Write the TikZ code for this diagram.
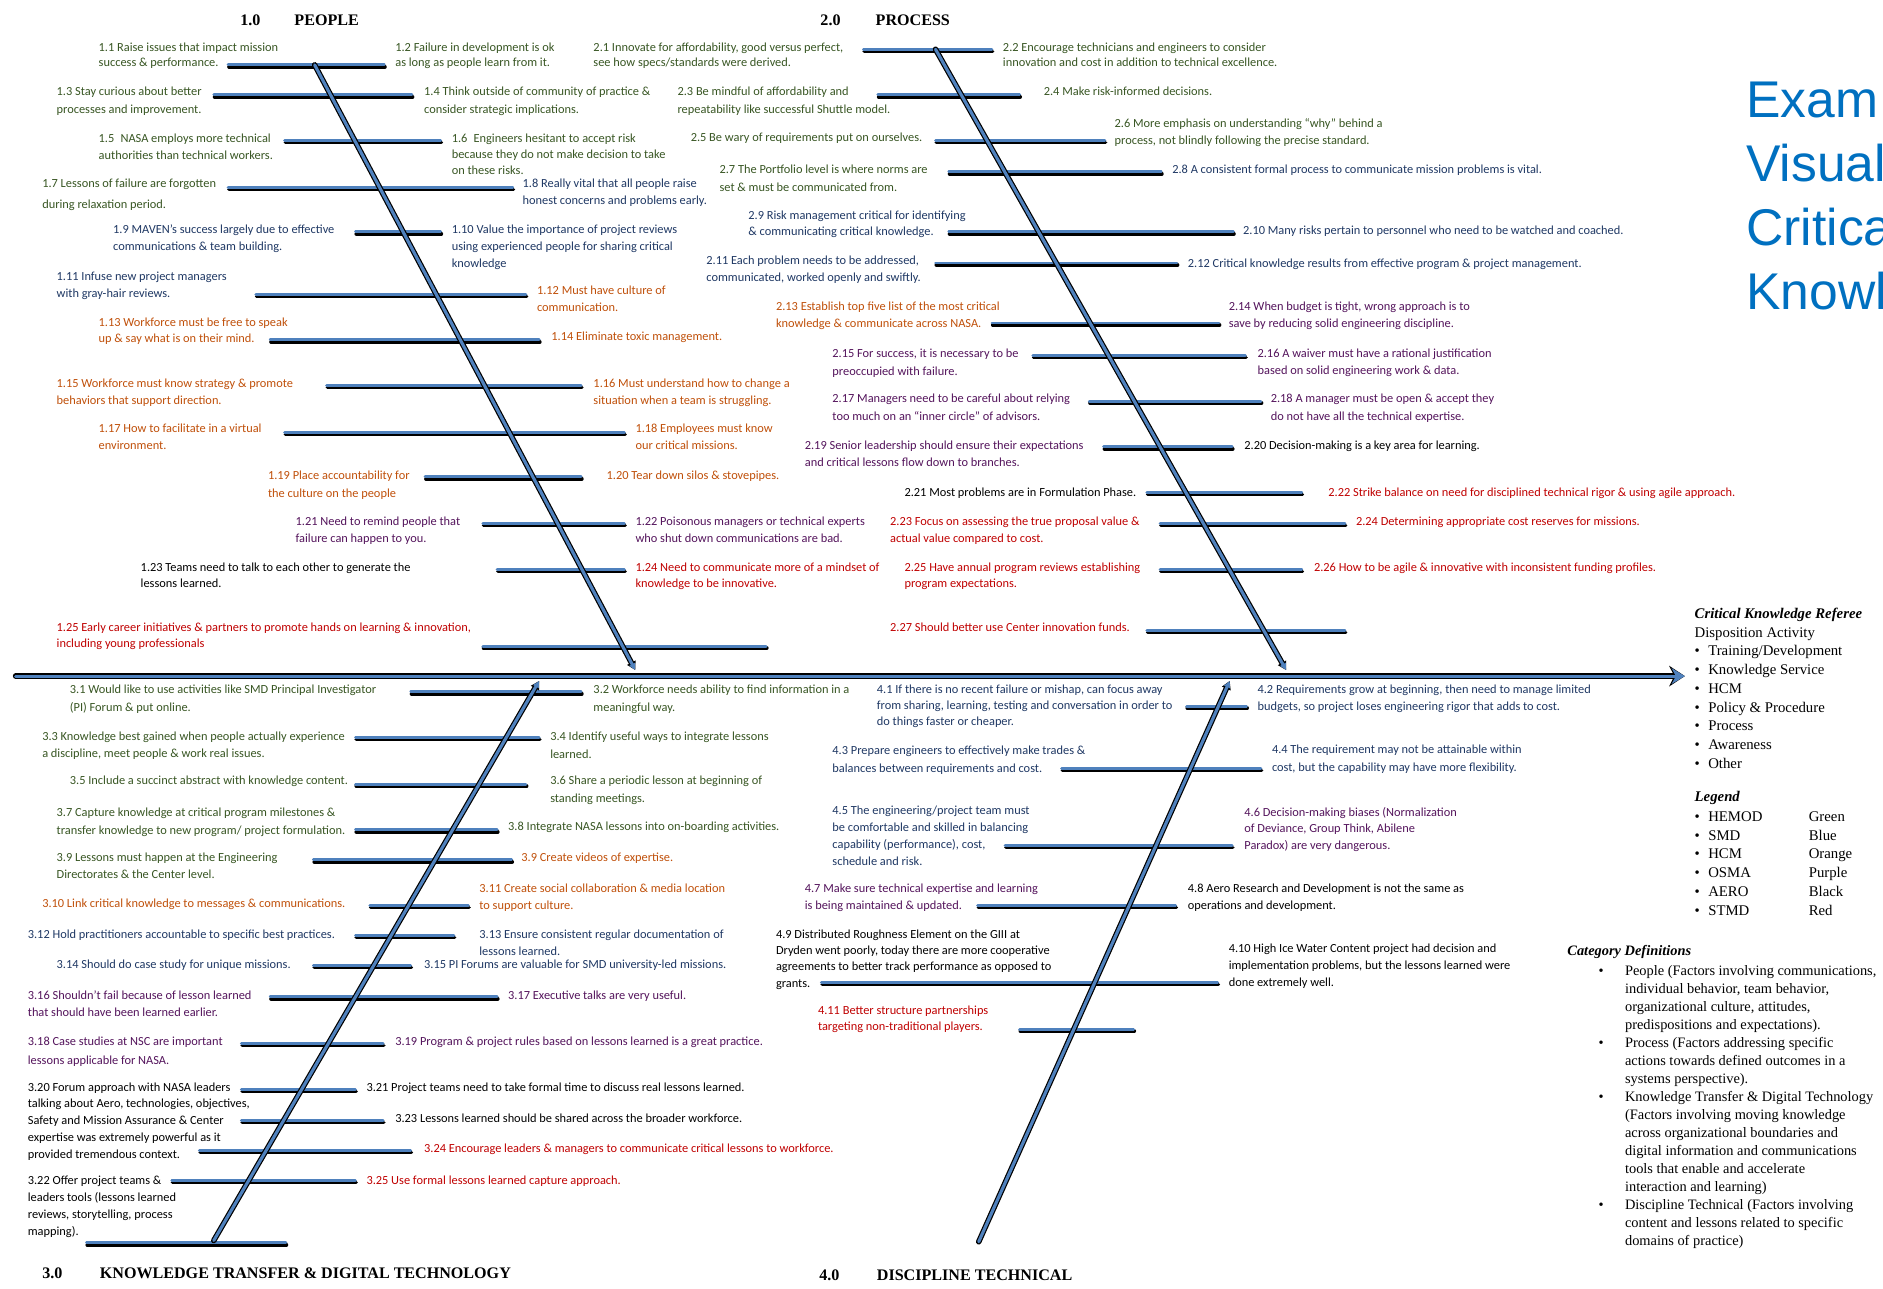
\documentclass[tikz,border=0pt]{standalone}
\usepackage{fontspec}
\setmainfont{Carlito}
\newfontfamily\serifft{Liberation Serif}
\newfontfamily\sansft{Liberation Sans}
\usetikzlibrary{arrows.meta}
\definecolor{cgreen}{RGB}{56,86,35}
\definecolor{cblue}{RGB}{31,56,100}
\definecolor{corange}{RGB}{192,80,10}
\definecolor{cpurple}{RGB}{84,20,92}
\definecolor{cred}{RGB}{192,0,0}
\definecolor{ribblue}{RGB}{79,129,189}
\definecolor{titleblue}{RGB}{0,112,192}
\newcommand\tb[1]{\begin{tabular}[t]{@{}l@{}}#1\end{tabular}}
\newcommand\itm[6][14]{\node[item,text=#3,font=\fontsize{10.3}{#1}\selectfont] (#2) at (#4,#5+3.5) {\tb{#6}};}
\newcommand\rib[3]{\draw[ribshadow] (#2+0.6,#1+1.7) -- (#3+0.6,#1+1.7); \draw[ribtop] (#2,#1) -- (#3,#1);}
\begin{document}
\begin{tikzpicture}[x=1pt,y=-1pt,
  item/.style={anchor=base west, inner sep=0pt},
  ribshadow/.style={draw=black, line width=2.9pt, line cap=round},
  ribtop/.style={draw=ribblue, line width=2.4pt, line cap=round},
  boneback/.style={draw=black, line width=4.6pt, line cap=round},
  bonefront/.style={draw=ribblue, line width=2.6pt, line cap=round},
  head/.style={anchor=base west, inner sep=0pt, font=\serifft\bfseries\fontsize{13.4}{16}\selectfont},
  legtext/.style={anchor=base west, inner sep=0pt, font=\serifft\fontsize{12.3}{15.6}\selectfont},
  cattext/.style={anchor=base west, inner sep=0pt, font=\serifft\fontsize{12}{15}\selectfont}]
\useasboundingbox (0,0) rectangle (1568,1073);
\clip (0,0) rectangle (1568,1073);
\fill[white] (0,0) rectangle (1568,1073);

% ---------------- ribs ----------------
\foreach \y/\a/\b in {54/190/320, 79/178/343, 117/237/367, 156/190/427, 193/296/367,
  245/213/438, 283/225/449, 321/272/484, 360/237/520, 397/354/484, 436/402/520,
  474/414/520, 538/402/638}{\rib{\y}{\a}{\b}}
\foreach \y/\a/\b in {41/719/826, 79/731/849, 117/779/920, 143/790/967, 193/790/1027,
  219/779/980, 269/826/1015, 296/860/1037, 334/907/1050, 372/919/1026, 410/955/1084,
  436/966/1120, 474/966/1084, 525/955/1120}{\rib{\y}{\a}{\b}}
\foreach \y/\a/\b in {576/342/484, 614/296/449, 653/296/438, 691/296/414, 716/261/426,
  754/308/390, 779/296/378, 804/261/342, 830/225/414, 869/201/319, 907/201/296,
  933/201/319, 958/166/342, 983/143/296, 1035/72/238}{\rib{\y}{\a}{\b}}
\foreach \y/\a/\b in {588/988/1038, 640/884/1050, 704/837/1026, 754/814/979,
  818/684/1014, 857/849/944}{\rib{\y}{\a}{\b}}

% ---------------- spine and bones ----------------
\coordinate (spL) at (13,563);
\coordinate (spR) at (1403,563);
\draw[boneback, -{Stealth[length=13pt,width=17pt]}] (spL) -- (spR);
\draw[bonefront, -{Stealth[length=11pt,width=13pt]}] (spL) -- (spR);
\coordinate (b1s) at (262,54);   \coordinate (b1e) at (529,558);
\coordinate (b2s) at (779,41);   \coordinate (b2e) at (1071,558);
\coordinate (b3s) at (178,1033); \coordinate (b3e) at (449,567);
\coordinate (b4s) at (815,1034); \coordinate (b4e) at (1024,567);
\foreach \s/\e in {b1s/b1e, b2s/b2e, b3s/b3e, b4s/b4e}{
  \draw[boneback, -{Triangle[length=7pt,width=7.5pt]}] (\s) -- (\e);
  \draw[bonefront, -{Triangle[length=5.5pt,width=5pt]}] (\s) -- (\e);}

% ---------------- headings ----------------
\node[head] (h1n) at (200,21.5) {1.0};  \node[head] (h1t) at (245,21.5) {PEOPLE};
\node[head] (h2n) at (683,21.5) {2.0};  \node[head] (h2t) at (729,21.5) {PROCESS};
\node[head] (h3n) at (35,1065) {3.0};   \node[head] (h3t) at (83,1065) {KNOWLEDGE TRANSFER \& DIGITAL TECHNOLOGY};
\node[head] (h4n) at (682,1066) {4.0};  \node[head] (h4t) at (730,1066) {DISCIPLINE TECHNICAL};

% ---------------- 1.0 People ----------------
\itm[13]{n101}{cgreen}{82}{39}{1.1 Raise issues that impact mission\\success \& performance.}
\itm[13]{n102}{cgreen}{329}{39}{1.2 Failure in development is ok\\as long as people learn from it.}
\itm[15]{n103}{cgreen}{47}{76}{1.3 Stay curious about better\\processes and improvement.}
\itm[15]{n104}{cgreen}{353}{76}{1.4 Think outside of community of practice \&\\consider strategic implications.}
\itm{n105}{cgreen}{82}{115}{1.5\enspace NASA employs more technical\\authorities than technical workers.}
\itm[13.5]{n106}{cgreen}{376}{115}{1.6\enspace Engineers hesitant to accept risk\\because they do not make decision to take\\on these risks.}
\itm[17]{n107}{cgreen}{35}{153}{1.7 Lessons of failure are forgotten\\during relaxation period.}
\itm{n108}{cblue}{435}{153}{1.8 Really vital that all people raise\\honest concerns and problems early.}
\itm{n109}{cblue}{94}{191}{1.9 MAVEN’s success largely due to effective\\communications \& team building.}
\itm{n110}{cblue}{376}{191}{1.10 Value the importance of project reviews\\using experienced people for sharing critical\\knowledge}
\itm{n111}{cblue}{47}{230}{1.11 Infuse new project managers\\with gray-hair reviews.}
\itm{n112}{corange}{447}{242}{1.12 Must have culture of\\communication.}
\itm{n113}{corange}{82}{268}{1.13 Workforce must be free to speak\\up \& say what is on their mind.}
\itm{n114}{corange}{459}{280}{1.14 Eliminate toxic management.}
\itm{n115}{corange}{47}{319}{1.15 Workforce must know strategy \& promote\\behaviors that support direction.}
\itm{n116}{corange}{494}{319}{1.16 Must understand how to change a\\situation when a team is struggling.}
\itm{n117}{corange}{82}{357}{1.17 How to facilitate in a virtual\\environment.}
\itm{n118}{corange}{529}{357}{1.18 Employees must know\\our critical missions.}
\itm[15]{n119}{corange}{223}{396}{1.19 Place accountability for\\the culture on the people}
\itm{n120}{corange}{505}{396}{1.20 Tear down silos \& stovepipes.}
\itm{n121}{cpurple}{246}{434}{1.21 Need to remind people that\\failure can happen to you.}
\itm{n122}{cpurple}{529}{434}{1.22 Poisonous managers or technical experts\\who shut down communications are bad.}
\itm{n123}{black}{117}{472}{1.23 Teams need to talk to each other to generate the\\lessons learned.}
\itm{n124}{cred}{529}{472}{1.24 Need to communicate more of a mindset of\\knowledge to be innovative.}
\itm{n125}{cred}{47}{522}{1.25 Early career initiatives \& partners to promote hands on learning \& innovation,\\including young professionals}

% ---------------- 2.0 Process ----------------
\itm[13]{n201}{cgreen}{494}{39}{2.1 Innovate for affordability, good versus perfect,\\see how specs/standards were derived.}
\itm[13]{n202}{cgreen}{835}{39}{2.2 Encourage technicians and engineers to consider\\innovation and cost in addition to technical excellence.}
\itm[15]{n203}{cgreen}{564}{76}{2.3 Be mindful of affordability and\\repeatability like successful Shuttle model.}
\itm{n204}{cgreen}{869}{76}{2.4 Make risk-informed decisions.}
\itm{n205}{cgreen}{575}{114}{2.5 Be wary of requirements put on ourselves.}
\itm{n206}{cgreen}{928}{103}{2.6 More emphasis on understanding “why” behind a\\process, not blindly following the precise standard.}
\itm[15]{n207}{cgreen}{599}{141}{2.7 The Portfolio level is where norms are\\set \& must be communicated from.}
\itm{n208}{cblue}{976}{141}{2.8 A consistent formal process to communicate mission problems is vital.}
\itm{n209}{cblue}{623}{179}{2.9 Risk management critical for identifying\\\& communicating critical knowledge.}
\itm{n210}{cblue}{1035}{192}{2.10 Many risks pertain to personnel who need to be watched and coached.}
\itm{n211}{cblue}{588}{217}{2.11 Each problem needs to be addressed,\\communicated, worked openly and swiftly.}
\itm{n212}{cblue}{989}{219}{2.12 Critical knowledge results from effective program \& project management.}
\itm{n213}{corange}{646}{255}{2.13 Establish top five list of the most critical\\knowledge \& communicate across NASA.}
\itm{n214}{cpurple}{1023}{255}{2.14 When budget is tight, wrong approach is to\\save by reducing solid engineering discipline.}
\itm[15]{n215}{cpurple}{693}{294}{2.15 For success, it is necessary to be\\preoccupied with failure.}
\itm{n216}{cpurple}{1047}{294}{2.16 A waiver must have a rational justification\\based on solid engineering work \& data.}
\itm[15]{n217}{cpurple}{693}{332}{2.17 Managers need to be careful about relying\\too much on an “inner circle” of advisors.}
\itm[15]{n218}{cpurple}{1058}{332}{2.18 A manager must be open \& accept they\\do not have all the technical expertise.}
\itm{n219}{cpurple}{670}{371}{2.19 Senior leadership should ensure their expectations\\and critical lessons flow down to branches.}
\itm{n220}{black}{1036}{371}{2.20 Decision-making is a key area for learning.}
\itm{n221}{black}{753}{410}{2.21 Most problems are in Formulation Phase.}
\itm{n222}{cred}{1106}{410}{2.22 Strike balance on need for disciplined technical rigor \& using agile approach.}
\itm{n223}{cred}{741}{434}{2.23 Focus on assessing the true proposal value \&\\actual value compared to cost.}
\itm{n224}{cred}{1129}{434}{2.24 Determining appropriate cost reserves for missions.}
\itm{n225}{cred}{753}{472}{2.25 Have annual program reviews establishing\\program expectations.}
\itm{n226}{cred}{1094}{472}{2.26 How to be agile \& innovative with inconsistent funding profiles.}
\itm{n227}{cred}{741}{522}{2.27 Should better use Center innovation funds.}

% ---------------- 3.0 Knowledge transfer ----------------
\itm[15]{n301}{cgreen}{58}{574}{3.1 Would like to use activities like SMD Principal Investigator\\(PI) Forum \& put online.}
\itm[15]{n302}{cgreen}{494}{574}{3.2 Workforce needs ability to find information in a\\meaningful way.}
\itm{n303}{cgreen}{35}{613}{3.3 Knowledge best gained when people actually experience\\a discipline, meet people \& work real issues.}
\itm[15]{n304}{cgreen}{458}{613}{3.4 Identify useful ways to integrate lessons\\learned.}
\itm{n305}{cgreen}{58}{650}{3.5 Include a succinct abstract with knowledge content.}
\itm[15]{n306}{cgreen}{458}{650}{3.6 Share a periodic lesson at beginning of\\standing meetings.}
\itm[15]{n307}{cgreen}{47}{676}{3.7 Capture knowledge at critical program milestones \&\\transfer knowledge to new program/ project formulation.}
\itm{n308}{cgreen}{423}{688}{3.8 Integrate NASA lessons into on-boarding activities.}
\itm{n309}{cgreen}{47}{714}{3.9 Lessons must happen at the Engineering\\Directorates \& the Center level.}
\itm{n309b}{corange}{434}{714}{3.9 Create videos of expertise.}
\itm{n310}{corange}{35}{752}{3.10 Link critical knowledge to messages \& communications.}
\itm{n311}{corange}{399}{740}{3.11 Create social collaboration \& media location\\to support culture.}
\itm{n312}{cblue}{23}{778}{3.12 Hold practitioners accountable to specific best practices.}
\itm{n313}{cblue}{399}{778}{3.13 Ensure consistent regular documentation of\\lessons learned.}
\itm{n314}{cblue}{47}{803}{3.14 Should do case study for unique missions.}
\itm{n315}{cblue}{353}{803}{3.15 PI Forums are valuable for SMD university-led missions.}
\itm{n316}{cpurple}{23}{829}{3.16 Shouldn’t fail because of lesson learned\\that should have been learned earlier.}
\itm{n317}{cpurple}{423}{829}{3.17 Executive talks are very useful.}
\itm[16]{n318}{cpurple}{23}{867}{3.18 Case studies at NSC are important\\lessons applicable for NASA.}
\itm{n319}{cpurple}{329}{867}{3.19 Program \& project rules based on lessons learned is a great practice.}
\itm{n320}{black}{23}{905}{3.20 Forum approach with NASA leaders\\talking about Aero, technologies, objectives,\\Safety and Mission Assurance \& Center\\expertise was extremely powerful as it\\provided tremendous context.}
\itm{n321}{black}{305}{905}{3.21 Project teams need to take formal time to discuss real lessons learned.}
\itm{n323}{black}{329}{931}{3.23 Lessons learned should be shared across the broader workforce.}
\itm{n324}{cred}{353}{956}{3.24 Encourage leaders \& managers to communicate critical lessons to workforce.}
\itm{n322}{black}{23}{983}{3.22 Offer project teams \&\\leaders tools (lessons learned\\reviews, storytelling, process\\mapping).}
\itm{n325}{cred}{305}{983}{3.25 Use formal lessons learned capture approach.}

% ---------------- 4.0 Discipline technical ----------------
\itm[13.5]{n401}{cblue}{730}{574}{4.1 If there is no recent failure or mishap, can focus away\\from sharing, learning, testing and conversation in order to\\do things faster or cheaper.}
\itm{n402}{cblue}{1047}{574}{4.2 Requirements grow at beginning, then need to manage limited\\budgets, so project loses engineering rigor that adds to cost.}
\itm[15]{n403}{cblue}{693}{625}{4.3 Prepare engineers to effectively make trades \&\\balances between requirements and cost.}
\itm[15]{n404}{cblue}{1059}{624}{4.4 The requirement may not be attainable within\\cost, but the capability may have more flexibility.}
\itm{n405}{cblue}{693}{675}{4.5 The engineering/project team must\\be comfortable and skilled in balancing\\capability (performance), cost,\\schedule and risk.}
\itm{n406}{cpurple}{1036}{676}{4.6 Decision-making biases (Normalization\\of Deviance, Group Think, Abilene\\Paradox) are very dangerous.}
\itm{n407}{cpurple}{670}{740}{4.7 Make sure technical expertise and learning\\is being maintained \& updated.}
\itm{n408}{black}{989}{740}{4.8 Aero Research and Development is not the same as\\operations and development.}
\itm[13.5]{n409}{black}{646}{778}{4.9 Distributed Roughness Element on the GIII at\\Dryden went poorly, today there are more cooperative\\agreements to better track performance as opposed to\\grants.}
\itm{n410}{black}{1023}{790}{4.10 High Ice Water Content project had decision and\\implementation problems, but the lessons learned were\\done extremely well.}
\itm{n411}{cred}{681}{841}{4.11 Better structure partnerships\\targeting non-traditional players.}

% ---------------- title ----------------
\node[anchor=base west, inner sep=0pt, text=titleblue,
  font=\sansft\fontsize{43}{53.3}\selectfont] (ttl) at (1454,98) {\tb{Exam\\Visual\\Critica\\Knowl}};

% ---------------- legend ----------------
\node[legtext] (lg1) at (1411,515) {\tb{{\bfseries\itshape Critical Knowledge Referee}\\Disposition Activity\\
\textbullet\hspace{7pt}Training/Development\\\textbullet\hspace{7pt}Knowledge Service\\\textbullet\hspace{7pt}HCM\\
\textbullet\hspace{7pt}Policy \& Procedure\\\textbullet\hspace{7pt}Process\\\textbullet\hspace{7pt}Awareness\\\textbullet\hspace{7pt}Other}};
\node[legtext] (lg2) at (1411,667) {\tb{{\bfseries\itshape Legend}\\[1.4pt]\textbullet\hspace{7pt}HEMOD\\\textbullet\hspace{7pt}SMD\\
\textbullet\hspace{7pt}HCM\\\textbullet\hspace{7pt}OSMA\\\textbullet\hspace{7pt}AERO\\\textbullet\hspace{7pt}STMD}};
\node[legtext] (lg3) at (1506,684) {\tb{Green\\Blue\\Orange\\Purple\\Black\\Red}};

\node[cattext] (cd0) at (1305,796) {\bfseries\itshape Category Definitions};
\node[cattext] (cb1) at (1331,812) {\textbullet};
\node[cattext] (cd1) at (1353,812) {\tb{People (Factors involving communications,\\individual behavior, team behavior,\\organizational culture, attitudes,\\predispositions and expectations).}};
\node[cattext] (cb2) at (1331,872) {\textbullet};
\node[cattext] (cd2) at (1353,872) {\tb{Process (Factors addressing specific\\actions towards defined outcomes in a\\systems perspective).}};
\node[cattext] (cb3) at (1331,917) {\textbullet};
\node[cattext] (cd3) at (1353,917) {\tb{Knowledge Transfer \& Digital Technology\\(Factors involving moving knowledge\\across organizational boundaries and\\digital information and communications\\tools that enable and accelerate\\interaction and learning)}};
\node[cattext] (cb4) at (1331,1007) {\textbullet};
\node[cattext] (cd4) at (1353,1007) {\tb{Discipline Technical (Factors involving\\content and lessons related to specific\\domains of practice)}};
\end{tikzpicture}
\end{document}
